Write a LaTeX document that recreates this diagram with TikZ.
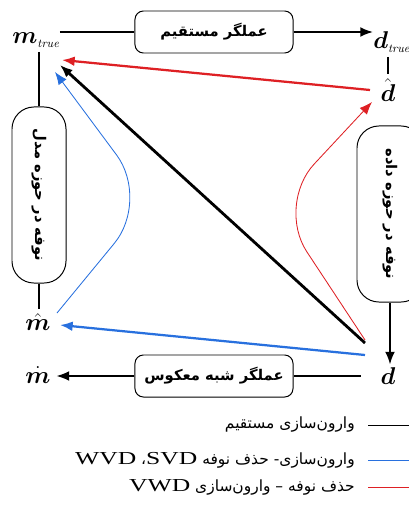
\documentclass[tikz,border=0pt]{standalone}
\usepackage{amsmath,amssymb}
\usepackage{fontspec}
\usepackage{tikz}
\usetikzlibrary{arrows.meta,calc}
\TeXXeTstate=1
\newfontfamily\arabicfont[Script=Arabic]{DejaVu Sans}
\newfontfamily\latinfont[FakeStretch=1.4]{Liberation Serif}
\definecolor{redln}{RGB}{222,32,36}
\definecolor{blueln}{RGB}{40,112,222}

\begin{document}
\begin{tikzpicture}[x=0.025cm,y=-0.025cm,>={Latex[length=9pt,width=7pt]},
  sym/.style={inner sep=0pt,font=\fontsize{17}{17}\selectfont},
  opbox/.style={draw,line width=.7pt,rounded corners=6pt,minimum width=3.95cm,minimum height=1.05cm,font=\arabicfont\bfseries\fontsize{10.5}{12}\selectfont},
  noisebox/.style={draw,line width=.7pt,rounded corners=.55cm,rotate=-90,minimum width=4.4cm,font=\arabicfont\bfseries\fontsize{10.5}{12}\selectfont},
  legtext/.style={anchor=east,inner sep=0pt,font=\arabicfont\fontsize{11}{13}\selectfont}]
\useasboundingbox (0,0) rectangle (408,513);
% labels
\node[sym] (mtrue) at (36,40) {$\boldsymbol{m}_{\scriptscriptstyle\mathit{true}}$};
\node[sym,anchor=west] (dtrue) at (373,42) {$\boldsymbol{d}_{\scriptscriptstyle\mathit{true}}$};
\node[sym] (dhat) at (388,90) {$\hat{\boldsymbol{d}}$};
\node[sym] (mhat) at (38,322) {$\hat{\boldsymbol{m}}$};
\node[sym] (mdot) at (38,375) {$\dot{\boldsymbol{m}}$};
\node[sym] (d) at (388,376) {$\boldsymbol{d}$};
% boxes
\node[opbox] (fwd) at (214,32) {\beginR عملگر مستقیم\endR};
\node[opbox] (pinv) at (214,376) {\beginR عملگر شبه معکوس\endR};
\node[noisebox,minimum height=1.35cm] (noisem) at (39,195) {\beginR نوفه در حوزه مدل\endR};
\node[noisebox,minimum height=1.65cm] (noised) at (390,214) {\beginR نوفه در حوزه داده\endR};
% frame lines
\draw[line width=1.3pt] (fwd.west -| mtrue.east) -- (fwd.west);
\draw[line width=1.3pt,->] (fwd.east) -- (fwd.east -| dtrue.west);
\draw[line width=1.3pt,shorten <=3pt,shorten >=3pt] (dhat.north |- dtrue.south) -- (dhat.north);
\draw[line width=1.3pt,shorten <=3pt] (noisem.west |- mtrue.south) -- (noisem.west);
\draw[line width=1.3pt,shorten >=3pt] (noisem.east) -- (noisem.east |- mhat.north);
\draw[line width=1.3pt,->,shorten >=2pt] (noised.east) -- (noised.east |- d.north);
\draw[line width=1.3pt,shorten <=14pt] (pinv.east -| d.west) -- (pinv.east);
\draw[line width=1.3pt,->,shorten >=4pt] (pinv.west) -- (pinv.west -| mdot.east);
% inversion paths
\draw[redln,line width=1.6pt,->] ($(dhat)+(-18,0)$) -- ($(mtrue)+(26,20)$);
\draw[line width=2pt,->] ($(d)+(-23,-33)$) -- ($(mtrue)+(24,25)$);
\draw[blueln,line width=1.6pt,->] ($(d)+(-23,-21)$) -- ($(mhat)+(22,3)$);
\draw[blueln,line width=.6pt,->,rounded corners=1.4cm] ($(mhat)+(19,-9)$) -- (150,200) -- ($(mtrue)+(19,32)$);
\draw[redln,line width=.6pt,->,rounded corners=1.4cm] ($(d)+(-23,-36)$) -- (276,205) -- ($(dhat)+(-16,12)$);
% legend
\node[legtext] (leg1) at (355,425) {\beginR وارون‌سازی مستقیم\endR};
\node[legtext] (leg2) at (355,460) {\beginR وارون‌سازی- حذف نوفه \beginL{\latinfont\fontsize{13}{13}\selectfont SVD}\endL، \beginL{\latinfont\fontsize{13}{13}\selectfont WVD}\endL\endR};
\node[legtext] (leg3) at (355,487) {\beginR حذف نوفه – وارون‌سازی \beginL{\latinfont\fontsize{13}{13}\selectfont VWD}\endL\endR};
\draw[line width=.6pt] ($(leg1.east)+(13,0)$) -- +(45,0);
\draw[blueln,line width=.6pt] ($(leg2.east)+(13,0)$) -- +(45,0);
\draw[redln,line width=.6pt] ($(leg3.east)+(13,0)$) -- +(45,0);
\end{tikzpicture}
\end{document}
